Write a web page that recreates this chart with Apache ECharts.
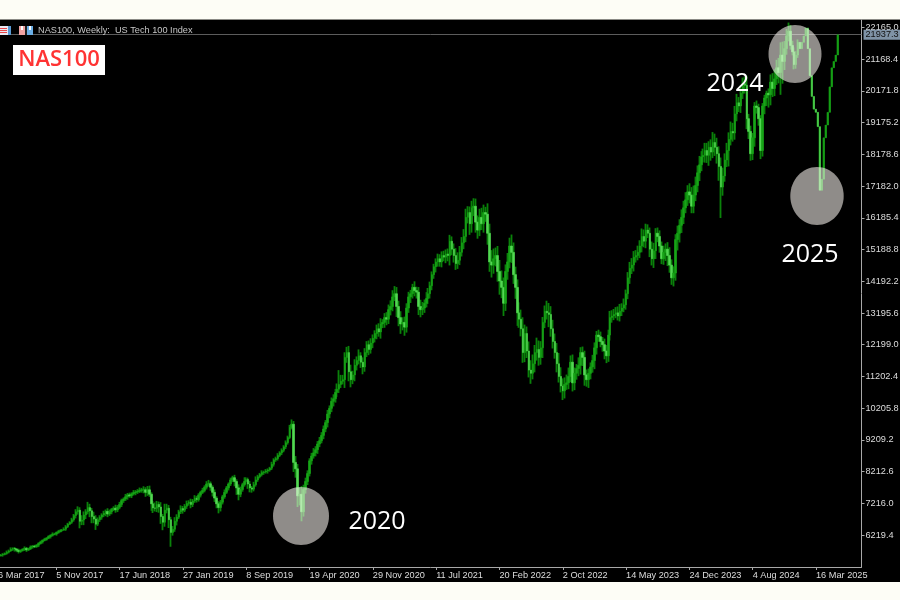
<!DOCTYPE html>
<html><head><meta charset="utf-8">
<style>html,body{margin:0;padding:0;background:#fdfdf6}#c{width:900px;height:600px}</style>
<script src="https://cdn.jsdelivr.net/npm/echarts@6/dist/echarts.min.js"></script>
</head><body><div id="c"></div>
<script>
const tickLabels=['26 Mar 2017','5 Nov 2017','17 Jun 2018','27 Jan 2019','8 Sep 2019','19 Apr 2020','29 Nov 2020','11 Jul 2021','20 Feb 2022','2 Oct 2022','14 May 2023','24 Dec 2023','4 Aug 2024','16 Mar 2025'];
const priceTicks=[6219.4,7216.0,8212.6,9209.2,10205.8,11202.4,12199.0,13195.6,14192.2,15188.8,16185.4,17182.0,18178.6,19175.2,20171.8,21168.4,22165.0];
const lastPrice=21937.3;
const firstOpen=5570;
const closes=[
5590,5610,5640,5680,5720,5770,5800,5780,5740,5700,
5730,5770,5800,5750,5790,5840,5870,5850,5900,5950,
6000,6050,6080,6120,6170,6210,6240,6250,6300,6330,
6360,6380,6400,6480,6560,6620,6700,6830,6950,7000,
6650,6690,6850,6950,7080,6980,6800,6720,6560,6700,
6780,6850,6900,6960,6880,6950,7020,7060,7010,7090,
7180,7300,7350,7420,7480,7450,7510,7550,7570,7590,
7620,7640,7640,7560,7640,7500,7200,7070,7060,7180,
7100,6800,6620,7000,7060,6700,6300,6400,6650,6780,
6950,7050,7000,7120,7210,7250,7180,7290,7380,7330,
7470,7560,7620,7720,7820,7830,7720,7560,7380,7200,
7080,7250,7420,7560,7700,7820,7950,8020,7900,7700,
7500,7650,7800,7900,7960,7820,7700,7660,7800,7950,
8050,8120,8180,8200,8230,8260,8320,8440,8580,8620,
8720,8800,8880,8990,9120,9280,9600,9700,8500,8300,
7450,7500,6950,7650,7900,8150,8550,8700,8800,8900,
9080,9180,9350,9550,9750,10020,10200,10420,10500,10700,
10800,10950,11050,11100,11800,11950,11350,11100,11250,11550,
11700,11850,11650,11500,11950,12200,12050,12250,12400,12550,
12700,12600,12850,12900,13050,13000,13300,13400,13700,13800,
13400,13050,12850,12900,12750,13350,13700,13800,14000,13900,
13850,13400,13300,13350,13500,13650,13800,14050,14400,14650,
14800,14900,14800,15000,14950,15050,15000,15450,15200,15000,
14750,14850,15100,15400,15600,16200,16350,16000,16500,16550,
16050,15800,16200,16000,16350,16300,15700,14800,14700,14900,
15000,14500,14200,14000,13500,14500,14800,15300,15100,14400,
14000,13200,13000,12700,11950,12550,12000,11400,11300,11600,
11950,12050,11800,12100,12900,13250,13200,13150,12700,12300,
11950,11600,11200,10900,10750,10950,11000,11200,11650,11000,
11300,11450,11550,11950,11800,11250,11100,11300,11500,11700,
12100,12500,12450,12300,12200,12000,11850,12500,13050,13100,
13150,13200,13100,13250,13350,13450,13800,14300,14600,14700,
14950,15000,15100,15300,15600,15450,15800,15700,15200,14900,
15150,15700,15600,15300,14900,15100,15200,15000,14700,14300,
14450,15500,15700,15950,16200,16500,16750,17000,16900,16550,
16900,17200,17600,17850,18100,18150,18300,18150,18400,18250,
18550,18400,18200,17800,17150,17500,18000,18300,18650,18900,
18850,19450,19800,19700,20100,20400,20350,19300,18900,18200,
18700,19700,19650,19300,18300,19700,19950,20100,20050,20450,
20250,20550,20900,20750,21300,21100,21500,21900,22050,21600,
21400,21000,21300,21700,21500,21700,21900,22150,21500,20650,
20000,19600,19500,19050,17050,17400,18700,19100,19500,20300,
20900,21100,21300,21937
];
const upperWicks=[
30,40,30,50,40,60,30,40,30,50,40,30,60,40,30,50,30,40,30,40,
40,30,50,30,40,30,60,40,30,50,40,30,60,50,40,30,60,50,80,120,
90,150,110,80,180,120,90,150,120,70,60,50,80,60,100,70,50,60,110,70,
80,60,50,90,60,70,50,80,60,70,90,60,110,80,120,130,60,90,170,110,
90,150,80,200,140,100,90,100,130,90,60,100,80,70,90,60,110,60,90,70,
60,50,80,60,90,120,70,60,90,60,80,70,60,90,60,50,70,60,90,70,
110,90,60,130,70,60,100,60,90,110,60,50,70,40,60,50,40,80,50,60,
70,50,60,50,70,60,80,150,100,200,150,220,260,150,120,100,80,100,150,110,
90,120,100,110,80,130,90,120,140,110,180,450,200,150,160,180,210,220,130,190,
130,200,110,150,140,110,130,150,120,100,130,170,180,100,140,170,160,190,210,240,
210,180,200,160,180,150,160,120,110,190,
120,160,210,190,120,200,180,130,100,90,110,160,140,130,150,140,170,200,150,180,
230,250,200,180,230,270,200,190,220,250,240,210,270,300,250,180,340,300,370,320,
250,300,360,330,310,220,280,260,360,310,250,250,330,300,360,280,220,300,310,290,
240,370,280,210,170,180,330,310,260,280,250,300,340,290,240,220,260,280,210,240,
180,140,250,170,190,210,170,150,140,180,170,130,170,160,140,190,190,170,210,180,
170,180,200,230,150,200,130,180,200,220,190,170,210,180,250,220,200,180,180,240,
250,160,180,190,140,210,180,220,260,180,210,170,240,190,250,220,240,210,270,250,
300,280,230,280,180,210,240,240,190,250,330,280,300,230,280,260,210,240,220,310,
270,250,280,180,240,190,220,300,150,180,150,120,170,120,110,90,100,80,150,240,
280,300,250,310,400,420,240,220,270,190,150,140,120,90
];
const lowerWicks=[
30,50,30,40,40,30,50,80,60,60,40,30,50,60,30,40,50,40,30,60,
30,50,30,40,30,60,40,30,50,40,30,40,30,50,40,30,50,60,90,90,
220,120,160,130,80,200,210,130,180,60,70,80,70,90,100,60,80,50,90,70,
60,80,70,60,90,60,70,50,80,60,50,70,110,140,110,80,220,160,100,120,
180,230,250,140,100,260,450,100,80,130,60,70,110,60,80,70,120,80,60,90,
60,70,50,60,70,80,110,130,120,140,
180,120,70,60,50,80,60,70,150,220,190,90,70,60,70,150,140,110,70,60,
60,50,60,70,50,80,50,60,70,60,60,50,70,60,70,60,50,60,300,280,
350,300,300,150,130,110,90,120,80,110,130,100,80,120,100,150,130,120,160,120,
140,120,110,100,260,170,300,240,140,200,160,120,180,230,150,140,180,130,160,130,
180,150,210,130,170,190,150,180,150,130,330,270,310,200,270,170,150,190,150,180,
200,270,240,170,150,130,170,150,140,130,180,150,150,170,130,190,180,310,190,220,
200,170,150,130,200,180,190,350,280,260,330,270,190,200,280,240,360,310,390,270,
240,320,430,340,400,240,260,200,330,290,360,410,270,240,320,300,220,230,330,190,
270,250,260,230,320,180,210,400,250,220,190,270,190,200,290,240,170,200,180,270,
230,200,240,290,270,340,220,260,190,180,270,210,160,180,220,260,230,190,170,160,
130,120,140,170,150,130,150,170,190,180,200,170,150,180,200,190,220,150,250,210,
290,260,180,210,170,190,270,330,240,220,270,240,340,290,240,210,170,190,260,220,
220,190,210,260,200,170,230,240,330,270,190,270,310,450,970,270,180,220,500,190,
270,210,230,190,220,180,260,330,240,220,200,280,190,220,270,190,260,250,400,330,
270,240,190,340,700,700,270,190,170,130,110,150,130,90
];
const leadingBlank=4, totalBars=440;
const categories=Array.from({length:totalBars},(_,i)=>{
  const d=new Date(Date.UTC(2017,2,26)+i*7*864e5);
  return d.getUTCDate()+' '+['Jan','Feb','Mar','Apr','May','Jun','Jul','Aug','Sep','Oct','Nov','Dec'][d.getUTCMonth()]+' '+d.getUTCFullYear();
});
const pad=n=>Array(n).fill('-');
const full=[],bodies=[];
closes.forEach((c,i)=>{
  const o=i?closes[i-1]:firstOpen, top=Math.max(o,c), bot=Math.min(o,c);
  full.push([o,c,bot-(lowerWicks[i]||0),top+(upperWicks[i]||0)]);
  bodies.push([o,c,bot,top]);
});
const fullData=pad(leadingBlank).concat(full), bodyData=pad(leadingBlank).concat(bodies);
const isTick=(i,v)=>tickLabels.includes(v);
const font='"Liberation Sans",sans-serif', big='"Open Sans",sans-serif';
const ellipse=(cx,cy,rx,ry)=>({type:'ellipse',z:100,shape:{cx,cy,rx,ry},style:{fill:'rgba(255,250,245,0.56)'}});
const note=(x,y,text)=>({type:'text',z:101,x,y,style:{text,fill:'#fff',font:'400 25px '+big,textAlign:'center',textVerticalAlign:'middle'}});
const rect=(x,y,width,height,fill,z=50)=>({type:'rect',z,shape:{x,y,width,height},style:{fill}});
const chart=echarts.init(document.getElementById('c'),null,{renderer:'canvas'});
chart.setOption({
  animation:false,backgroundColor:'#fdfdf6',
  grid:{left:-7,width:868.5,top:20,height:547,outerBoundsMode:'none',containLabel:false,show:false},
  xAxis:{type:'category',data:categories,boundaryGap:false,
    axisLine:{lineStyle:{color:'#a8a8a8',width:1}},
    axisTick:{interval:isTick,length:3,lineStyle:{color:'#a8a8a8'}},
    axisLabel:{interval:isTick,align:'left',color:'#dcdcdc',fontFamily:font,fontSize:9.2,margin:4,showMinLabel:true,hideOverlap:false},
    splitLine:{show:false}},
  yAxis:{type:'value',position:'right',min:5214,max:22400.7,scale:true,
    axisLine:{show:true,lineStyle:{color:'#a8a8a8',width:1}},
    axisTick:{show:true,length:3,customValues:priceTicks,lineStyle:{color:'#a8a8a8'}},
    axisLabel:{customValues:priceTicks,color:'#dcdcdc',fontFamily:font,fontSize:9.2,margin:4,formatter:v=>v.toFixed(1),showMinLabel:true,showMaxLabel:true},
    splitLine:{show:false}},
  series:[
    {name:'range',type:'candlestick',data:fullData,barWidth:1,z:3,silent:true,
      itemStyle:{color:'#0a820a',color0:'#0a820a',borderColor:'#0a820a',borderColor0:'#0a820a',borderWidth:1.8},
      markLine:{silent:true,symbol:'none',animation:false,z:2,lineStyle:{color:'#5c5c5c',width:1,type:'solid'},
        label:{show:true,position:'end',distance:2,formatter:()=>lastPrice.toFixed(1),color:'#111',fontFamily:font,fontSize:9.2,backgroundColor:'#7f93a6',padding:[1,2,0,2]},
        data:[{yAxis:lastPrice}]}},
    {name:'body',type:'candlestick',data:bodyData,barWidth:2,z:4,silent:true,
      itemStyle:{color:'#17a517',color0:'#52d852',borderColor:'#17a517',borderColor0:'#52d852',borderWidth:0.6}}
  ],
  graphic:{elements:[
    rect(0,0,900,19,'#fdfdf6',-100),
    rect(0,19,900,563,'#000',-90),
    rect(0,19,900,1,'#8a8a85',-80),
    rect(0,582,900,18,'#fdfdf6',-100),
    rect(13,45,92,30,'#fff'),
    {type:'text',z:51,x:59,y:60,style:{text:'NAS100',fill:'#ff3333',font:'600 22px '+big,textAlign:'center',textVerticalAlign:'middle'}},
    {type:'text',z:51,x:38,y:30,style:{text:'NAS100, Weekly:  US Tech 100 Index',fill:'#c8c8c8',font:'9.2px '+font,textVerticalAlign:'middle'}},
    rect(0,26,11,9,'#e9e9f2'),rect(0,28,7,1,'#e8484a'),rect(0,30,7,1,'#e8484a'),rect(0,32,7,1,'#e8484a'),rect(8,26,3,9,'#5b9bd5'),
    rect(19,26,6,9,'#f1a3a3'),rect(21,26,2,4,'#fff'),rect(25,26,2,9,'#222'),rect(27,26,6,9,'#6aaee6'),rect(29,26,2,4,'#fff'),
    ellipse(301,516,28,29),ellipse(795,54,26.5,29),ellipse(817,196,26.7,29),
    note(377,522,'2020'),note(735,84,'2024'),note(810,255,'2025')
  ]}
});
</script></body></html>
